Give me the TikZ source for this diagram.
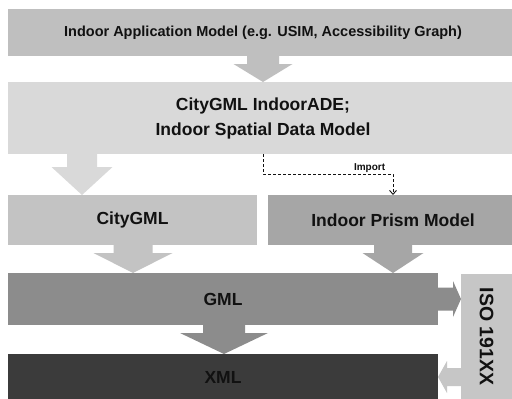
\documentclass[tikz,border=0pt]{standalone}
\usepackage{fontspec}
\setmainfont{Liberation Sans}
\usetikzlibrary{arrows.meta,calc}

\definecolor{appgray}{HTML}{BFBFBF}
\definecolor{adegray}{HTML}{D9D9D9}
\definecolor{citygray}{HTML}{C3C3C3}
\definecolor{prismgray}{HTML}{A6A6A6}
\definecolor{gmlgray}{HTML}{8C8C8C}
\definecolor{xmlgray}{HTML}{3B3B3B}
\definecolor{isogray}{HTML}{C6C6C6}
\definecolor{ink}{HTML}{111111}

% block arrow pointing down: colour, source, target, centre x, shaft half-width, head half-width, head length
\newcommand\blockdown[7]{%
  \fill[#1] let \p1=(#2.south), \p2=(#3.north) in
    ({#4pt-#5pt},\y1) -- ({#4pt+#5pt},\y1) -- ({#4pt+#5pt},{\y2+#7pt}) --
    ({#4pt+#6pt},{\y2+#7pt}) -- (#4pt,\y2) -- ({#4pt-#6pt},{\y2+#7pt}) --
    ({#4pt-#5pt},{\y2+#7pt}) -- cycle;}
% block arrow pointing right, at the height of the source: colour, source, target, shaft half, head half, head length
\newcommand\blockright[6]{%
  \fill[#1] let \p1=(#2.east), \p2=(#3.west) in
    (\x1,{\y1+#4pt}) -- ({\x2-#6pt},{\y1+#4pt}) -- ({\x2-#6pt},{\y1+#5pt}) --
    (\x2,\y1) -- ({\x2-#6pt},{\y1-#5pt}) -- ({\x2-#6pt},{\y1-#4pt}) --
    (\x1,{\y1-#4pt}) -- cycle;}
% block arrow pointing left, at the height of the target: colour, source, target, shaft half, head half, head length
\newcommand\blockleft[6]{%
  \fill[#1] let \p1=(#2.west), \p2=(#3.east) in
    (\x1,{\y2+#4pt}) -- ({\x2+#6pt},{\y2+#4pt}) -- ({\x2+#6pt},{\y2+#5pt}) --
    (\x2,\y2) -- ({\x2+#6pt},{\y2-#5pt}) -- ({\x2+#6pt},{\y2-#4pt}) --
    (\x1,{\y2-#4pt}) -- cycle;}

\begin{document}
\begin{tikzpicture}[x=1pt,y=-1pt,
  layer/.style={rectangle,anchor=north west,inner sep=0pt,outer sep=0pt,
    text=ink,font=\bfseries\fontsize{17.5}{25}\selectfont,align=center},
  label/.style={inner sep=1pt,text=ink,font=\bfseries\fontsize{10}{12}\selectfont}]
\useasboundingbox (0,0) rectangle (512,399);
\fill[white] (0,0) rectangle (512,399);

% layers
\node[layer,fill=appgray,minimum width=510pt,minimum height=47pt,
  font=\bfseries\fontsize{14.5}{17}\selectfont] (app) at (8,9)
  {Indoor Application Model (e.g. USIM, Accessibility Graph)};
\node[layer,fill=adegray,minimum width=510pt,minimum height=72pt] (ade) at (8,82)
  {CityGML IndoorADE;\\Indoor Spatial Data Model};
\node[layer,fill=citygray,minimum width=249pt,minimum height=50pt] (city) at (8,195) {CityGML};
\node[layer,fill=prismgray,minimum width=250pt,minimum height=50pt] (prism) at (268,195) {Indoor Prism Model};
\node[layer,fill=gmlgray,minimum width=430pt,minimum height=52pt] (gml) at (8,273) {GML};
\node[layer,fill=xmlgray,minimum width=430pt,minimum height=46pt] (xml) at (8,354) {XML};
\node[layer,fill=isogray,minimum width=51pt,minimum height=125pt] (iso) at (461,274) {};
\node[text=ink,font=\bfseries\fontsize{19.5}{20}\selectfont,rotate=-90] (isotext) at (iso.center) {ISO 191XX};

% block arrows between layers
\blockdown{appgray}{app}{ade}{263}{16}{29.5}{18}
\blockdown{adegray}{ade}{city}{82}{15}{30.5}{28}
\blockdown{citygray}{city}{gml}{133}{19.5}{39.5}{20}
\blockdown{prismgray}{prism}{gml}{393}{19}{30.5}{20}
\blockdown{gmlgray}{gml}{xml}{224}{21}{44}{21}
\blockright{gmlgray}{gml}{iso}{11.5}{18}{8}
\blockleft{isogray}{iso}{xml}{9}{16}{9}

% import relation
\draw[ink,line width=0.9pt,dash pattern=on 3pt off 2pt,-{Straight Barb[length=4pt,width=7pt]}]
  (ade.south) -- ++(0,20) -| (prism.north)
  node[label,pos=0.41,above] (import) {Import};
\end{tikzpicture}
\end{document}
